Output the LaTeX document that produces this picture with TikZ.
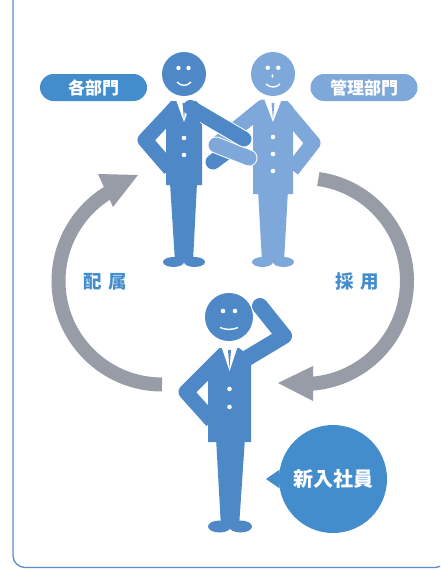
\documentclass[tikz,border=0pt]{standalone}
\usepackage{fontspec}
\newfontfamily\jpfont{Noto Sans CJK JP}
\usepackage{tikz}
\usetikzlibrary{positioning,calc}
\definecolor{mydarkblue}{RGB}{78,136,199}
\definecolor{mylightblue}{RGB}{126,168,218}
\definecolor{mybrightblue}{RGB}{67,141,204}
\definecolor{mygray}{RGB}{152,156,166}
\definecolor{myframe}{RGB}{91,142,207}
\tikzstyle{tag}=[rectangle,rounded corners=13.5pt,minimum width=107pt,minimum height=27pt,inner sep=0pt,text=white,font=\jpfont\bfseries\fontsize{17pt}{17pt}\selectfont]
\tikzstyle{cycletext}=[text=mybrightblue,font=\jpfont\bfseries\fontsize{18.5pt}{18.5pt}\selectfont]
\tikzstyle{limb}=[line width=15pt,line join=round]
\tikzstyle{halo}=[white,line width=17pt,line cap=round,line join=round]
\tikzstyle{cyclearrow}=[draw=mygray,line width=14pt]

\begin{document}
\begin{tikzpicture}[x=1pt,y=-1pt]
\useasboundingbox (0,0) rectangle (440,570);
\clip (0,0) rectangle (440,570);
% frame
\draw[myframe,line width=1.3pt,rounded corners=12pt] (13,-20) -- (13,567.5) -- (447,567.5) -- (447,-20);

% cycle arrows
\coordinate (lc) at (162,281);
\coordinate (rc) at (304,281);
\draw[cyclearrow] (lc) ++(90:103.5) arc[start angle=90,end angle=240,radius=103.5];
\fill[mygray] (98,174) -- (138,175) -- (113,207) -- cycle;
\draw[cyclearrow] (rc) ++(-82:103) arc[start angle=-82,end angle=87,radius=103];
\fill[mygray] (278,383) -- (313,366) -- (313,401) -- cycle;

% manager (light)
\fill[mylightblue] (259,101) -- (287,101) -- (293,107) -- (293,194) -- (253,194) -- (253,107) -- cycle;
\fill[mylightblue] (258,190) -- (288,190) -- (284,262) -- (262,262) -- cycle;
\fill[mylightblue] (262.5,262) ellipse[x radius=10.5,y radius=5] (283.5,262) ellipse[x radius=10.5,y radius=5];
\draw[limb,mylightblue] (281.5,105.5) -- (313,143) -- (292,170);
\draw[limb,mylightblue,line cap=round] (263,107) -- (216,145);
\fill[white] (264.5,100) -- (281.5,100) -- (273,122) -- cycle;
\fill[mylightblue] (271.5,103) -- (274.5,103) -- (273,119) -- cycle;
\foreach \y in {137,154,171} \fill[white] (273,\y) circle[radius=2.3];
\fill[mylightblue] (273,74) circle[radius=22];
\fill[white] (267.7,67.7) circle[radius=2.2] (278.3,67.7) circle[radius=2.2];
\fill[white] (272.5,76) ellipse[x radius=1.2,y radius=1.8];
\draw[white,line width=1.4pt] (266,84) .. controls (270,88) and (276,88) .. (280,84);

% department (dark)
\fill[mydarkblue] (171,101) -- (196,101) -- (202,107) -- (202,185) -- (166,185) -- (166,107) -- cycle;
\fill[mydarkblue] (170,183) -- (197,183) -- (193,262) -- (175,262) -- cycle;
\fill[mydarkblue] (173.5,262) ellipse[x radius=10.5,y radius=5] (194.5,262) ellipse[x radius=10.5,y radius=5];
\draw[limb,mydarkblue] (177,106) -- (145,140) -- (170,169);
\fill[white] (176,100) -- (192,100) -- (184,122) -- cycle;
\fill[mydarkblue] (182.5,103) -- (185.5,103) -- (184,119) -- cycle;
\foreach \y in {138,155} \fill[white] (184,\y) circle[radius=2.3];
\fill[mydarkblue] (184,74) circle[radius=22];
\fill[white] (178.5,68) circle[radius=2.2] (188.5,68) circle[radius=2.2];
\draw[white,line width=1.4pt] (177,82) .. controls (181,86.5) and (187,86.5) .. (191,82);

% linked arms
\draw[limb,mydarkblue,line cap=round] (244,139) -- (213,162);
\draw[halo] (216,145) -- (249,158);
\draw[limb,mylightblue,line cap=round] (216,145) -- (249,158);
\draw[halo] (207,117.5) -- (244,139);
\draw[limb,mydarkblue,line cap=round] (190.5,107.5) -- (244,139);

% new employee
\fill[mydarkblue] (220,348) -- (239,348) -- (251,357) -- (251,442) -- (208,442) -- (208,359.5) -- cycle;
\fill[mydarkblue] (216,438) -- (245,438) -- (239,527) -- (221,527) -- cycle;
\fill[mydarkblue] (219.5,526.5) ellipse[x radius=11.5,y radius=6] (240.5,526.5) ellipse[x radius=11.5,y radius=6];
\draw[limb,mydarkblue] (225,353) -- (186,392) -- (212,421);
\fill[white] (221.5,347) -- (237.5,347) -- (229.5,371) -- cycle;
\fill[mydarkblue] (228,350) -- (231,350) -- (229.5,368) -- cycle;
\foreach \y in {389,407} \fill[white] (229.5,\y) circle[radius=2.3];
\fill[mydarkblue] (229,317) circle[radius=24];
\fill[white] (223,311) circle[radius=2.3] (235,311) circle[radius=2.3];
\draw[white,line width=1.4pt] (220,327.5) .. controls (225,330) and (233,330) .. (238,327.5);
\draw[halo,line width=18pt] (284,336) -- (260,306);
\draw[limb,mydarkblue,line width=16pt,line cap=round] (244,360) -- (284,336) -- (260,306);

% labels
\node[tag,fill=mybrightblue] (dept) at (93.5,87.5) {各部門};
\node[tag,fill=mylightblue] (admin) at (364,87.5) {管理部門};
\node[cycletext] (assign) at (105.5,281.5) {配\hspace{7pt}属};
\node[cycletext] (hire) at (357,281.5) {採\hspace{7pt}用};
\node[circle,fill=mybrightblue,minimum size=108pt,inner sep=0pt,text=white,font=\jpfont\bfseries\fontsize{20pt}{20pt}\selectfont] (newbie) at (333,479) {新入社員};
\fill[mybrightblue] (newbie.170) -- (266,479) -- (newbie.190) -- cycle;
\end{tikzpicture}
\end{document}
